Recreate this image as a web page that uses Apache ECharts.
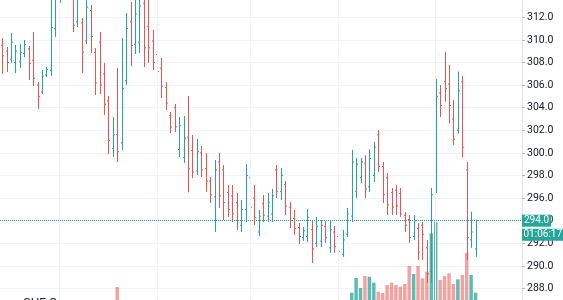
<!DOCTYPE html>
<html><head><meta charset="utf-8">
<script src="https://cdn.jsdelivr.net/npm/echarts@6/dist/echarts.min.js"></script>
<style>html,body{margin:0;padding:0;background:#fff}#c{width:563px;height:300px}</style>
</head><body><div id="c"></div>
<script>
// ---- data ----
const barCount = 118; // category slots on the time axis (last ones empty)
const categories = Array.from({length: barCount}, (_, i) => 'T' + i);
const opens = [
309.5,309.0,308.3,308.0,308.1,308.8,309.2,308.2,306.0,305.4,
306.9,307.3,311.0,313.8,315.6,314.7,315.5,311.6,311.5,309.9,
312.6,308.9,309.8,307.0,304.6,300.4,301.6,300.9,306.4,311.6,
309.6,309.8,313.2,311.2,309.9,308.7,307.5,305.8,303.3,304.0,
300.3,299.6,301.4,300.2,298.4,300.0,298.6,297.5,296.1,299.2,
298.5,296.5,296.2,295.6,293.6,295.0,297.8,296.0,293.0,295.5,
294.4,294.6,298.5,296.6,297.2,295.2,294.2,293.4,292.5,292.6,
293.2,292.0,292.2,293.5,291.6,293.0,292.6,291.0,292.8,294.4,
296.6,297.8,299.1,297.0,298.0,301.6,298.8,297.8,296.5,296.7,
296.4,294.5,294.1,292.6,293.3,293.6,291.6,289.5,296.9,305.3,
306.3,306.1,303.0,302.0,306.3,298.5,292.3,291.5];
const highs = [
310.17,309.37,310.6,309.55,309.64,309.99,309.46,310.7,306.27,307.34,
307.6,313.9,315.2,316.0,316.5,316.8,316.0,314.6,311.94,313.6,
313.09,309.28,310.7,307.96,305.04,303.18,307.51,310.17,312.38,313.35,
313.8,314.3,314.4,313.7,310.88,309.55,308.4,306.27,303.62,304.33,
303.18,303.27,305.04,301.58,301.23,300.61,299.99,297.87,299.37,299.99,
298.93,297.16,297.16,296.45,295.83,299.02,298.67,297.16,294.95,296.27,
296.45,296.81,298.93,298.67,297.51,295.66,294.95,293.79,293.44,295.04,
293.97,294.33,294.06,293.97,293.97,293.53,293.88,293.18,295.12,300.26,
299.55,299.55,299.8,300.3,300.99,302.03,299.2,298.22,296.89,297.16,
296.89,294.77,294.51,294.51,293.79,293.88,292.29,296.89,306.54,306.0,
308.95,307.8,304.68,307.2,306.8,299.2,294.8,294.1];
const lows = [
306.98,307.16,307.96,307.07,307.51,308.49,306.45,305.92,303.88,305.21,
306.72,306.81,310.26,313.3,314.2,314.3,310.7,311.14,307.07,309.64,
308.84,305.12,305.21,303.35,299.9,299.64,299.19,300.26,306.01,307.69,
308.75,308.84,307.6,307.96,307.34,306.45,304.86,303.8,301.76,301.85,
299.64,299.11,296.5,297.78,298.04,297.87,296.55,295.57,293.0,295.12,
294.06,294.33,293.88,293.18,293.0,293.88,293.79,293.62,292.65,293.88,
293.88,293.88,296.01,295.83,294.51,293.35,292.73,291.94,292.21,292.12,
290.26,291.68,291.68,292.03,291.15,291.15,290.8,290.8,292.56,293.88,
296.01,297.34,296.0,296.54,297.42,298.31,295.57,294.51,294.51,294.51,
294.33,293.0,292.03,292.29,290.53,290.53,288.5,288.5,296.45,303.18,
304.53,302.6,300.7,301.7,299.6,290.5,291.6,290.8];
const closes = [
308.6,308.0,309.8,309.0,308.9,309.6,307.9,306.6,305.0,306.8,
307.4,311.1,313.8,315.2,314.8,316.0,311.3,313.6,308.9,312.9,
310.3,306.2,306.0,304.3,301.1,301.6,300.1,305.7,311.0,309.5,
312.3,313.0,309.3,309.3,308.0,307.2,305.9,304.4,302.3,302.3,
302.4,301.3,298.6,298.3,300.1,298.5,297.5,296.3,298.5,296.2,
295.6,295.0,294.6,294.0,295.0,298.0,295.2,294.3,294.4,294.5,
295.6,296.2,296.6,298.0,295.3,294.0,293.3,292.6,293.1,294.3,
291.5,293.5,293.6,292.5,293.2,291.7,291.3,292.3,294.6,299.2,
299.0,299.2,296.8,299.5,300.5,298.8,296.3,295.4,295.2,295.3,
294.6,293.6,292.5,294.0,291.2,292.8,289.3,296.3,305.0,304.2,
305.7,304.2,301.2,305.5,300.5,292.5,293.0,294.0];
// volume in thousands
const volumes = [
0,0,0,0,0,0,0,0,0,0,
0,0,0,0,0,0,0,0,0,0,
0,0,0,0,0,0,13,0,0,0,
0,0,0,0,0,0,0,0,0,0,
0,0,0,0,0,0,0,0,0,0,
0,0,0,0,0,0,0,0,0,0,
0,0,0,0,0,0,0,0,0,0,
0,0,0,0,0,0,0,0,0,7.3,
22,12,24,23.3,17.3,8.3,7,15,17.3,15,
13.3,16,34,26,34,21.7,28.3,66.7,78.3,20,
24,26.7,16,20.7,25,47.3,25,7.3];
const dayStarts = [13, 35, 56, 76, 98];
const lastPrice = 294.0;
const countdown = '01:06:17';
const legendName = 'CHF O';

// ---- style ----
const UP = '#26a69a', DOWN = '#ef5350';
const FONT = 'Roboto';

const ohlcData = opens.map((o, i) => [i, o, closes[i], lows[i], highs[i]]);

const chart = echarts.init(document.getElementById('c'), null, {renderer: 'canvas'});
chart.setOption({
  animation: false,
  backgroundColor: '#ffffff',
  legend: {
    show: true, left: 6, top: 293, itemWidth: 7, itemHeight: 7, itemGap: 6,
    icon: 'rect',
    textStyle: {fontFamily: FONT, fontSize: 12, color: '#131722'},
    data: [legendName]
  },
  grid: [
    {left: 0, right: 41, top: -5.3, bottom: -11.1, containLabel: false, outerBoundsMode: 'none'},
    {left: 0, right: 41, top: 0, bottom: 0, containLabel: false, outerBoundsMode: 'none'}
  ],
  xAxis: [
    {type: 'category', data: categories, gridIndex: 0, boundaryGap: true,
     axisLine: {show: false}, axisTick: {show: false}, axisLabel: {show: false}, splitLine: {show: false}},
    {type: 'category', data: categories, gridIndex: 1, boundaryGap: true,
     axisLine: {show: false}, axisTick: {show: false}, axisLabel: {show: false}, splitLine: {show: false}}
  ],
  yAxis: [
    {type: 'value', gridIndex: 0, position: 'right', min: 286, max: 314, interval: 2,
     axisLine: {show: true, lineStyle: {color: '#e0e3eb', width: 1}},
     axisTick: {show: true, length: 3, lineStyle: {color: '#b2b5be'}},
     axisLabel: {show: true, margin: 5, fontFamily: FONT, fontSize: 10.5, color: '#131722',
       formatter: v => v.toFixed(1)},
     splitLine: {show: true, lineStyle: {color: '#f0f3fa', width: 1}}},
    {type: 'value', gridIndex: 1, min: 0, max: 300, show: false, splitLine: {show: false}}
  ],
  series: [
    {
      name: 'grid', type: 'line', xAxisIndex: 0, yAxisIndex: 0, data: closes,
      showSymbol: false, lineStyle: {opacity: 0}, silent: true, z: 0,
      markLine: {
        silent: true, symbol: 'none', animation: false,
        label: {show: false},
        lineStyle: {color: '#f0f3fa', width: 1, type: 'solid'},
        data: dayStarts.map(d => ({xAxis: d}))
      }
    },
    {
      name: 'vol', type: 'bar', xAxisIndex: 1, yAxisIndex: 1, barWidth: '78%', z: 1,
      data: volumes.map((v, i) => ({
        value: v,
        itemStyle: {color: closes[i] >= opens[i] ? 'rgba(38,166,154,0.75)' : 'rgba(239,83,80,0.55)'}
      }))
    },
    {
      name: legendName, type: 'custom', xAxisIndex: 0, yAxisIndex: 0, clip: true, z: 3,
      itemStyle: {color: UP},
      encode: {x: 0, y: [1, 2, 3, 4]},
      data: ohlcData,
      renderItem: function (params, api) {
        const i = api.value(0);
        const o = api.value(1), c = api.value(2), l = api.value(3), h = api.value(4);
        const pH = api.coord([i, h]), pL = api.coord([i, l]);
        const pO = api.coord([i, o]), pC = api.coord([i, c]);
        const x = Math.round(pH[0]) + 0.5;
        const color = c >= o ? UP : DOWN;
        const t = 1.5;
        const st = {stroke: color, lineWidth: 1};
        return {type: 'group', children: [
          {type: 'line', shape: {x1: x, y1: pH[1], x2: x, y2: pL[1]}, style: st},
          {type: 'line', shape: {x1: x - t, y1: pO[1], x2: x, y2: pO[1]}, style: st},
          {type: 'line', shape: {x1: x, y1: pC[1], x2: x + t, y2: pC[1]}, style: st}
        ]};
      }
    },
    {
      name: 'price', type: 'line', xAxisIndex: 0, yAxisIndex: 0, data: closes,
      showSymbol: false, lineStyle: {opacity: 0}, silent: true, z: 5,
      markLine: {
        silent: true, symbol: 'none', animation: false,
        lineStyle: {color: UP, width: 1, type: [1, 1]},
        label: {
          show: true, position: 'end', distance: 0,
          formatter: () => '{e| }\n{p|' + lastPrice.toFixed(1) + '}\n{g| }\n{t|' + countdown + '}',
          rich: {
            e: {height: 14, lineHeight: 14, fontSize: 1},
            p: {color: '#fff', backgroundColor: UP, fontFamily: FONT, fontSize: 10,
                height: 12, lineHeight: 12, padding: [0, 2, 0, 2], width: 25},
            g: {height: 2, lineHeight: 2, fontSize: 1},
            t: {color: '#fff', backgroundColor: UP, fontFamily: FONT, fontSize: 10,
                height: 12, lineHeight: 12, padding: [0, 1, 0, 1.5], width: 39}
          }
        },
        data: [{yAxis: lastPrice}]
      }
    }
  ]
});
</script>
</body></html>
